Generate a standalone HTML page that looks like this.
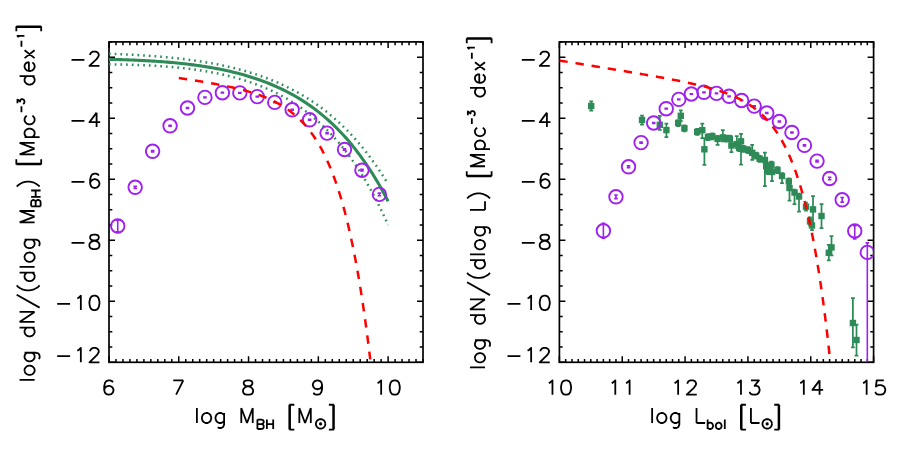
<!DOCTYPE html>
<html><head><meta charset="utf-8"><title>plot</title><style>html,body{margin:0;padding:0;background:#fff;font-family:"Liberation Sans",sans-serif}svg{display:block}</style></head><body>
<svg width="900" height="449" viewBox="0 0 900 449">
<rect width="900" height="449" fill="#fff"/>
<defs><clipPath id="c1"><rect x="109" y="41.9" width="314" height="320.4"/></clipPath><clipPath id="c2"><rect x="559.4" y="41.9" width="314.2" height="320.4"/></clipPath></defs>
<path d="M109 362.3v-6 M109 41.9v6 M115.98 362.3v-3.3 M115.98 41.9v3.3 M122.96 362.3v-3.3 M122.96 41.9v3.3 M129.93 362.3v-3.3 M129.93 41.9v3.3 M136.91 362.3v-3.3 M136.91 41.9v3.3 M143.89 362.3v-3.3 M143.89 41.9v3.3 M150.87 362.3v-3.3 M150.87 41.9v3.3 M157.84 362.3v-3.3 M157.84 41.9v3.3 M164.82 362.3v-3.3 M164.82 41.9v3.3 M171.8 362.3v-3.3 M171.8 41.9v3.3 M178.78 362.3v-6 M178.78 41.9v6 M185.76 362.3v-3.3 M185.76 41.9v3.3 M192.73 362.3v-3.3 M192.73 41.9v3.3 M199.71 362.3v-3.3 M199.71 41.9v3.3 M206.69 362.3v-3.3 M206.69 41.9v3.3 M213.67 362.3v-3.3 M213.67 41.9v3.3 M220.64 362.3v-3.3 M220.64 41.9v3.3 M227.62 362.3v-3.3 M227.62 41.9v3.3 M234.6 362.3v-3.3 M234.6 41.9v3.3 M241.58 362.3v-3.3 M241.58 41.9v3.3 M248.56 362.3v-6 M248.56 41.9v6 M255.53 362.3v-3.3 M255.53 41.9v3.3 M262.51 362.3v-3.3 M262.51 41.9v3.3 M269.49 362.3v-3.3 M269.49 41.9v3.3 M276.47 362.3v-3.3 M276.47 41.9v3.3 M283.44 362.3v-3.3 M283.44 41.9v3.3 M290.42 362.3v-3.3 M290.42 41.9v3.3 M297.4 362.3v-3.3 M297.4 41.9v3.3 M304.38 362.3v-3.3 M304.38 41.9v3.3 M311.36 362.3v-3.3 M311.36 41.9v3.3 M318.33 362.3v-6 M318.33 41.9v6 M325.31 362.3v-3.3 M325.31 41.9v3.3 M332.29 362.3v-3.3 M332.29 41.9v3.3 M339.27 362.3v-3.3 M339.27 41.9v3.3 M346.24 362.3v-3.3 M346.24 41.9v3.3 M353.22 362.3v-3.3 M353.22 41.9v3.3 M360.2 362.3v-3.3 M360.2 41.9v3.3 M367.18 362.3v-3.3 M367.18 41.9v3.3 M374.16 362.3v-3.3 M374.16 41.9v3.3 M381.13 362.3v-3.3 M381.13 41.9v3.3 M388.11 362.3v-6 M388.11 41.9v6 M395.09 362.3v-3.3 M395.09 41.9v3.3 M402.07 362.3v-3.3 M402.07 41.9v3.3 M409.04 362.3v-3.3 M409.04 41.9v3.3 M416.02 362.3v-3.3 M416.02 41.9v3.3 M423 362.3v-3.3 M423 41.9v3.3 M109 362.3h6 M423 362.3h-6 M109 347.04h3.3 M423 347.04h-3.3 M109 331.79h3.3 M423 331.79h-3.3 M109 316.53h3.3 M423 316.53h-3.3 M109 301.27h6 M423 301.27h-6 M109 286.01h3.3 M423 286.01h-3.3 M109 270.76h3.3 M423 270.76h-3.3 M109 255.5h3.3 M423 255.5h-3.3 M109 240.24h6 M423 240.24h-6 M109 224.99h3.3 M423 224.99h-3.3 M109 209.73h3.3 M423 209.73h-3.3 M109 194.47h3.3 M423 194.47h-3.3 M109 179.21h6 M423 179.21h-6 M109 163.96h3.3 M423 163.96h-3.3 M109 148.7h3.3 M423 148.7h-3.3 M109 133.44h3.3 M423 133.44h-3.3 M109 118.19h6 M423 118.19h-6 M109 102.93h3.3 M423 102.93h-3.3 M109 87.67h3.3 M423 87.67h-3.3 M109 72.41h3.3 M423 72.41h-3.3 M109 57.16h6 M423 57.16h-6 M109 41.9h3.3 M423 41.9h-3.3" stroke="#000" stroke-width="1.5" fill="none"/>
<rect x="109" y="41.9" width="314" height="320.4" fill="none" stroke="#000" stroke-width="1.7"/>
<path d="M559.4 362.3v-6 M559.4 41.9v6 M565.68 362.3v-3.3 M565.68 41.9v3.3 M571.97 362.3v-3.3 M571.97 41.9v3.3 M578.25 362.3v-3.3 M578.25 41.9v3.3 M584.54 362.3v-3.3 M584.54 41.9v3.3 M590.82 362.3v-3.3 M590.82 41.9v3.3 M597.1 362.3v-3.3 M597.1 41.9v3.3 M603.39 362.3v-3.3 M603.39 41.9v3.3 M609.67 362.3v-3.3 M609.67 41.9v3.3 M615.96 362.3v-3.3 M615.96 41.9v3.3 M622.24 362.3v-6 M622.24 41.9v6 M628.52 362.3v-3.3 M628.52 41.9v3.3 M634.81 362.3v-3.3 M634.81 41.9v3.3 M641.09 362.3v-3.3 M641.09 41.9v3.3 M647.38 362.3v-3.3 M647.38 41.9v3.3 M653.66 362.3v-3.3 M653.66 41.9v3.3 M659.94 362.3v-3.3 M659.94 41.9v3.3 M666.23 362.3v-3.3 M666.23 41.9v3.3 M672.51 362.3v-3.3 M672.51 41.9v3.3 M678.8 362.3v-3.3 M678.8 41.9v3.3 M685.08 362.3v-6 M685.08 41.9v6 M691.36 362.3v-3.3 M691.36 41.9v3.3 M697.65 362.3v-3.3 M697.65 41.9v3.3 M703.93 362.3v-3.3 M703.93 41.9v3.3 M710.22 362.3v-3.3 M710.22 41.9v3.3 M716.5 362.3v-3.3 M716.5 41.9v3.3 M722.78 362.3v-3.3 M722.78 41.9v3.3 M729.07 362.3v-3.3 M729.07 41.9v3.3 M735.35 362.3v-3.3 M735.35 41.9v3.3 M741.64 362.3v-3.3 M741.64 41.9v3.3 M747.92 362.3v-6 M747.92 41.9v6 M754.2 362.3v-3.3 M754.2 41.9v3.3 M760.49 362.3v-3.3 M760.49 41.9v3.3 M766.77 362.3v-3.3 M766.77 41.9v3.3 M773.06 362.3v-3.3 M773.06 41.9v3.3 M779.34 362.3v-3.3 M779.34 41.9v3.3 M785.62 362.3v-3.3 M785.62 41.9v3.3 M791.91 362.3v-3.3 M791.91 41.9v3.3 M798.19 362.3v-3.3 M798.19 41.9v3.3 M804.48 362.3v-3.3 M804.48 41.9v3.3 M810.76 362.3v-6 M810.76 41.9v6 M817.04 362.3v-3.3 M817.04 41.9v3.3 M823.33 362.3v-3.3 M823.33 41.9v3.3 M829.61 362.3v-3.3 M829.61 41.9v3.3 M835.9 362.3v-3.3 M835.9 41.9v3.3 M842.18 362.3v-3.3 M842.18 41.9v3.3 M848.46 362.3v-3.3 M848.46 41.9v3.3 M854.75 362.3v-3.3 M854.75 41.9v3.3 M861.03 362.3v-3.3 M861.03 41.9v3.3 M867.32 362.3v-3.3 M867.32 41.9v3.3 M873.6 362.3v-6 M873.6 41.9v6 M559.4 362.3h6 M873.6 362.3h-6 M559.4 347.04h3.3 M873.6 347.04h-3.3 M559.4 331.79h3.3 M873.6 331.79h-3.3 M559.4 316.53h3.3 M873.6 316.53h-3.3 M559.4 301.27h6 M873.6 301.27h-6 M559.4 286.01h3.3 M873.6 286.01h-3.3 M559.4 270.76h3.3 M873.6 270.76h-3.3 M559.4 255.5h3.3 M873.6 255.5h-3.3 M559.4 240.24h6 M873.6 240.24h-6 M559.4 224.99h3.3 M873.6 224.99h-3.3 M559.4 209.73h3.3 M873.6 209.73h-3.3 M559.4 194.47h3.3 M873.6 194.47h-3.3 M559.4 179.21h6 M873.6 179.21h-6 M559.4 163.96h3.3 M873.6 163.96h-3.3 M559.4 148.7h3.3 M873.6 148.7h-3.3 M559.4 133.44h3.3 M873.6 133.44h-3.3 M559.4 118.19h6 M873.6 118.19h-6 M559.4 102.93h3.3 M873.6 102.93h-3.3 M559.4 87.67h3.3 M873.6 87.67h-3.3 M559.4 72.41h3.3 M873.6 72.41h-3.3 M559.4 57.16h6 M873.6 57.16h-6 M559.4 41.9h3.3 M873.6 41.9h-3.3" stroke="#000" stroke-width="1.5" fill="none"/>
<rect x="559.4" y="41.9" width="314.2" height="320.4" fill="none" stroke="#000" stroke-width="1.7"/>
<g clip-path="url(#c1)" fill="none">
<path d="M109 59.36 L111.35 59.41 L113.69 59.46 L116.04 59.51 L118.38 59.57 L120.73 59.64 L123.07 59.71 L125.42 59.78 L127.76 59.86 L130.11 59.95 L132.45 60.04 L134.8 60.14 L137.15 60.24 L139.49 60.35 L141.84 60.46 L144.18 60.58 L146.53 60.7 L148.87 60.84 L151.22 60.98 L153.56 61.12 L155.91 61.28 L158.25 61.44 L160.6 61.6 L162.95 61.78 L165.29 61.97 L167.64 62.16 L169.98 62.36 L172.33 62.57 L174.67 62.79 L177.02 63.02 L179.36 63.25 L181.71 63.5 L184.06 63.76 L186.4 64.03 L188.75 64.31 L191.09 64.6 L193.44 64.9 L195.78 65.21 L198.13 65.54 L200.47 65.88 L202.82 66.23 L205.16 66.6 L207.51 66.97 L209.86 67.37 L212.2 67.77 L214.55 68.2 L216.89 68.63 L219.24 69.09 L221.58 69.56 L223.93 70.04 L226.27 70.55 L228.62 71.07 L230.96 71.61 L233.31 72.17 L235.66 72.75 L238 73.35 L240.35 73.97 L242.69 74.61 L245.04 75.28 L247.38 75.96 L249.73 76.67 L252.07 77.41 L254.42 78.16 L256.76 78.95 L259.11 79.76 L261.46 80.6 L263.8 81.46 L266.15 82.36 L268.49 83.28 L270.84 84.23 L273.18 85.22 L275.53 86.24 L277.87 87.29 L280.22 88.37 L282.56 89.5 L284.91 90.65 L287.26 91.85 L289.6 93.08 L291.95 94.36 L294.29 95.67 L296.64 97.03 L298.98 98.43 L301.33 99.87 L303.67 101.36 L306.02 102.9 L308.37 104.49 L310.71 106.13 L313.06 107.82 L315.4 109.56 L317.75 111.36 L320.09 113.22 L322.44 115.13 L324.78 117.1 L327.13 119.14 L329.47 121.24 L331.82 123.41 L334.17 125.64 L336.51 127.94 L338.86 130.32 L341.2 132.77 L343.55 135.29 L345.89 137.9 L348.24 140.58 L350.58 143.35 L352.93 146.21 L355.27 149.15 L357.62 152.18 L359.97 155.31 L362.31 158.54 L364.66 161.86 L367 165.29 L369.35 168.82 L371.69 172.46 L374.04 176.21 L376.38 180.08 L378.73 184.07 L381.07 188.18 L383.42 192.42 L385.77 196.78 L388.11 201.28" stroke="#2e8b57" stroke-width="3.1"/>
<path d="M109 53.81 L111.35 53.89 L113.69 53.97 L116.04 54.05 L118.38 54.14 L120.73 54.23 L123.07 54.33 L125.42 54.43 L127.76 54.54 L130.11 54.65 L132.45 54.77 L134.8 54.89 L137.15 55.02 L139.49 55.16 L141.84 55.3 L144.18 55.45 L146.53 55.6 L148.87 55.77 L151.22 55.93 L153.56 56.11 L155.91 56.29 L158.25 56.48 L160.6 56.67 L162.95 56.88 L165.29 57.09 L167.64 57.31 L169.98 57.54 L172.33 57.78 L174.67 58.02 L177.02 58.28 L179.36 58.54 L181.71 58.82 L184.06 59.1 L186.4 59.39 L188.75 59.7 L191.09 60.01 L193.44 60.34 L195.78 60.68 L198.13 61.03 L200.47 61.39 L202.82 61.76 L205.16 62.15 L207.51 62.54 L209.86 62.96 L212.2 63.38 L214.55 63.82 L216.89 64.28 L219.24 64.74 L221.58 65.23 L223.93 65.73 L226.27 66.24 L228.62 66.78 L230.96 67.33 L233.31 67.89 L235.66 68.48 L238 69.08 L240.35 69.7 L242.69 70.34 L245.04 71.01 L247.38 71.69 L249.73 72.39 L252.07 73.12 L254.42 73.86 L256.76 74.63 L259.11 75.43 L261.46 76.24 L263.8 77.09 L266.15 77.96 L268.49 78.85 L270.84 79.77 L273.18 80.72 L275.53 81.7 L277.87 82.71 L280.22 83.74 L282.56 84.81 L284.91 85.91 L287.26 87.04 L289.6 88.21 L291.95 89.41 L294.29 90.64 L296.64 91.92 L298.98 93.23 L301.33 94.57 L303.67 95.96 L306.02 97.39 L308.37 98.86 L310.71 100.37 L313.06 101.93 L315.4 103.53 L317.75 105.18 L320.09 106.88 L322.44 108.62 L324.78 110.42 L327.13 112.26 L329.47 114.17 L331.82 116.12 L334.17 118.13 L336.51 120.2 L338.86 122.33 L341.2 124.52 L343.55 126.78 L345.89 129.09 L348.24 131.48 L350.58 133.93 L352.93 136.45 L355.27 139.05 L357.62 141.71 L359.97 144.46 L362.31 147.28 L364.66 150.18 L367 153.17 L369.35 156.24 L371.69 159.39 L374.04 162.64 L376.38 165.97 L378.73 169.41 L381.07 172.93 L383.42 176.56 L385.77 180.29 L388.11 184.13" stroke="#2e8b57" stroke-width="2.5" stroke-dasharray="1.7 4"/>
<path d="M109 64.33 L111.35 64.35 L113.69 64.37 L116.04 64.4 L118.38 64.44 L120.73 64.48 L123.07 64.52 L125.42 64.57 L127.76 64.63 L130.11 64.69 L132.45 64.76 L134.8 64.84 L137.15 64.92 L139.49 65.01 L141.84 65.1 L144.18 65.2 L146.53 65.31 L148.87 65.43 L151.22 65.55 L153.56 65.68 L155.91 65.83 L158.25 65.97 L160.6 66.13 L162.95 66.3 L165.29 66.47 L167.64 66.66 L169.98 66.85 L172.33 67.06 L174.67 67.27 L177.02 67.5 L179.36 67.73 L181.71 67.98 L184.06 68.24 L186.4 68.51 L188.75 68.8 L191.09 69.09 L193.44 69.4 L195.78 69.73 L198.13 70.06 L200.47 70.42 L202.82 70.78 L205.16 71.17 L207.51 71.56 L209.86 71.98 L212.2 72.41 L214.55 72.86 L216.89 73.32 L219.24 73.81 L221.58 74.31 L223.93 74.83 L226.27 75.37 L228.62 75.94 L230.96 76.52 L233.31 77.13 L235.66 77.76 L238 78.41 L240.35 79.09 L242.69 79.79 L245.04 80.51 L247.38 81.27 L249.73 82.05 L252.07 82.85 L254.42 83.69 L256.76 84.56 L259.11 85.45 L261.46 86.38 L263.8 87.34 L266.15 88.34 L268.49 89.37 L270.84 90.43 L273.18 91.53 L275.53 92.67 L277.87 93.84 L280.22 95.06 L282.56 96.32 L284.91 97.62 L287.26 98.96 L289.6 100.35 L291.95 101.79 L294.29 103.27 L296.64 104.81 L298.98 106.39 L301.33 108.03 L303.67 109.72 L306.02 111.46 L308.37 113.26 L310.71 115.13 L313.06 117.05 L315.4 119.04 L317.75 121.09 L320.09 123.2 L322.44 125.39 L324.78 127.65 L327.13 129.98 L329.47 132.38 L331.82 134.86 L334.17 137.42 L336.51 140.07 L338.86 142.8 L341.2 145.61 L343.55 148.52 L345.89 151.52 L348.24 154.61 L350.58 157.8 L352.93 161.1 L355.27 164.49 L357.62 168 L359.97 171.62 L362.31 175.35 L364.66 179.2 L367 183.17 L369.35 187.26 L371.69 191.49 L374.04 195.84 L376.38 200.34 L378.73 204.97 L381.07 209.75 L383.42 214.68 L385.77 219.77 L388.11 225.01" stroke="#2e8b57" stroke-width="2.5" stroke-dasharray="1.7 4"/>
<g fill="none" stroke="#a020f0" stroke-width="1.9"><circle cx="117.72" cy="226" r="6.75"/><circle cx="135.17" cy="187.3" r="6.75"/><circle cx="152.61" cy="151.3" r="6.75"/><circle cx="170.06" cy="125.8" r="6.75"/><circle cx="187.5" cy="108" r="6.75"/><circle cx="204.94" cy="97.4" r="6.75"/><circle cx="222.39" cy="92.7" r="6.75"/><circle cx="239.83" cy="92.9" r="6.75"/><circle cx="257.28" cy="96.6" r="6.75"/><circle cx="274.72" cy="102.4" r="6.75"/><circle cx="292.17" cy="109.8" r="6.75"/><circle cx="309.61" cy="119.8" r="6.75"/><circle cx="327.06" cy="133.1" r="6.75"/><circle cx="344.5" cy="149.5" r="6.75"/><circle cx="361.94" cy="170.2" r="6.75"/><circle cx="379.39" cy="194.4" r="6.75"/><path d="M117.72 220.2V231.8 M115.92 220.2h3.6 M115.92 231.8h3.6 M135.17 186.2V188.4 M133.37 186.2h3.6 M133.37 188.4h3.6 M152.61 150.6V152 M150.81 150.6h3.6 M150.81 152h3.6 M170.06 125.3V126.3 M168.26 125.3h3.6 M168.26 126.3h3.6 M187.5 107.6V108.4 M185.7 107.6h3.6 M185.7 108.4h3.6 M204.94 97.1V97.7 M203.14 97.1h3.6 M203.14 97.7h3.6 M222.39 92.4V93 M220.59 92.4h3.6 M220.59 93h3.6 M239.83 92.6V93.2 M238.03 92.6h3.6 M238.03 93.2h3.6 M257.28 96.3V96.9 M255.48 96.3h3.6 M255.48 96.9h3.6 M274.72 102.1V102.7 M272.92 102.1h3.6 M272.92 102.7h3.6 M292.17 109.4V110.2 M290.37 109.4h3.6 M290.37 110.2h3.6 M309.61 119.4V120.2 M307.81 119.4h3.6 M307.81 120.2h3.6 M327.06 132.6V133.6 M325.26 132.6h3.6 M325.26 133.6h3.6 M344.5 148.9V150.1 M342.7 148.9h3.6 M342.7 150.1h3.6 M361.94 169.4V171 M360.14 169.4h3.6 M360.14 171h3.6 M379.39 193.1V195.7 M377.59 193.1h3.6 M377.59 195.7h3.6" stroke-width="1.6"/></g>
<path d="M178.78 78.08 L180.39 78.32 L182 78.56 L183.6 78.8 L185.21 79.04 L186.82 79.28 L188.43 79.52 L190.04 79.77 L191.65 80.02 L193.26 80.27 L194.87 80.52 L196.47 80.78 L198.08 81.04 L199.69 81.3 L201.3 81.56 L202.91 81.83 L204.52 82.09 L206.13 82.37 L207.74 82.64 L209.35 82.92 L210.95 83.21 L212.56 83.49 L214.17 83.78 L215.78 84.08 L217.39 84.38 L219 84.69 L220.61 85 L222.22 85.31 L223.83 85.64 L225.43 85.96 L227.04 86.3 L228.65 86.64 L230.26 86.99 L231.87 87.34 L233.48 87.71 L235.09 88.08 L236.7 88.46 L238.3 88.85 L239.91 89.25 L241.52 89.66 L243.13 90.08 L244.74 90.51 L246.35 90.96 L247.96 91.42 L249.57 91.89 L251.18 92.37 L252.78 92.87 L254.39 93.38 L256 93.92 L257.61 94.46 L259.22 95.03 L260.83 95.62 L262.44 96.22 L264.05 96.85 L265.65 97.5 L267.26 98.17 L268.87 98.87 L270.48 99.59 L272.09 100.35 L273.7 101.13 L275.31 101.94 L276.92 102.78 L278.53 103.66 L280.13 104.57 L281.74 105.53 L283.35 106.52 L284.96 107.55 L286.57 108.63 L288.18 109.75 L289.79 110.92 L291.4 112.15 L293 113.43 L294.61 114.76 L296.22 116.16 L297.83 117.62 L299.44 119.14 L301.05 120.74 L302.66 122.41 L304.27 124.16 L305.88 125.99 L307.48 127.91 L309.09 129.92 L310.7 132.03 L312.31 134.24 L313.92 136.55 L315.53 138.98 L317.14 141.53 L318.75 144.2 L320.36 147 L321.96 149.95 L323.57 153.03 L325.18 156.28 L326.79 159.68 L328.4 163.26 L330.01 167.01 L331.62 170.96 L333.23 175.1 L334.83 179.46 L336.44 184.04 L338.05 188.85 L339.66 193.91 L341.27 199.22 L342.88 204.81 L344.49 210.69 L346.1 216.87 L347.71 223.38 L349.31 230.21 L350.92 237.4 L352.53 244.97 L354.14 252.93 L355.75 261.3 L357.36 270.11 L358.97 279.38 L360.58 289.14 L362.18 299.4 L363.79 310.21 L365.4 321.58 L367.01 333.55 L368.62 346.14 L370.23 359.4" stroke="#ff0000" stroke-width="2.5" stroke-dasharray="8.4 7.95"/>
</g>
<g clip-path="url(#c2)" fill="none">
<g fill="#2e8b57" stroke="none"><rect x="588" y="102.8" width="6.4" height="6.4"/><rect x="638.8" y="116.8" width="6.4" height="6.4"/><rect x="656.6" y="121.6" width="6.4" height="6.4"/><rect x="663.2" y="126.9" width="6.4" height="6.4"/><rect x="675" y="119.8" width="6.4" height="6.4"/><rect x="677.6" y="112.6" width="6.4" height="6.4"/><rect x="681.2" y="125.1" width="6.4" height="6.4"/><rect x="694" y="128.7" width="6.4" height="6.4"/><rect x="699.1" y="127" width="6.4" height="6.4"/><rect x="701.2" y="146.1" width="6.4" height="6.4"/><rect x="704.8" y="134" width="6.4" height="6.4"/><rect x="709.2" y="133.1" width="6.4" height="6.4"/><rect x="714.4" y="135.7" width="6.4" height="6.4"/><rect x="719.6" y="134.2" width="6.4" height="6.4"/><rect x="723.1" y="135.4" width="6.4" height="6.4"/><rect x="726.6" y="135.4" width="6.4" height="6.4"/><rect x="728.2" y="142.3" width="6.4" height="6.4"/><rect x="733.6" y="140.9" width="6.4" height="6.4"/><rect x="737.8" y="138.1" width="6.4" height="6.4"/><rect x="736" y="144.8" width="6.4" height="6.4"/><rect x="740.3" y="145.6" width="6.4" height="6.4"/><rect x="745" y="146.9" width="6.4" height="6.4"/><rect x="749" y="149.6" width="6.4" height="6.4"/><rect x="753" y="152.4" width="6.4" height="6.4"/><rect x="756.5" y="155.6" width="6.4" height="6.4"/><rect x="761.7" y="156.8" width="6.4" height="6.4"/><rect x="763" y="163.1" width="6.4" height="6.4"/><rect x="765" y="167.8" width="6.4" height="6.4"/><rect x="768.2" y="161.5" width="6.4" height="6.4"/><rect x="768.8" y="168.8" width="6.4" height="6.4"/><rect x="774.3" y="166.8" width="6.4" height="6.4"/><rect x="778.8" y="172.8" width="6.4" height="6.4"/><rect x="785.6" y="178.2" width="6.4" height="6.4"/><rect x="786.3" y="184.8" width="6.4" height="6.4"/><rect x="791.3" y="189.3" width="6.4" height="6.4"/><rect x="795.8" y="193.3" width="6.4" height="6.4"/><rect x="802.8" y="203.5" width="6.4" height="6.4"/><rect x="809.8" y="206.2" width="6.4" height="6.4"/><rect x="806.8" y="218.2" width="6.4" height="6.4"/><rect x="808.8" y="222.3" width="6.4" height="6.4"/><rect x="818.3" y="212.8" width="6.4" height="6.4"/><rect x="828.3" y="244.2" width="6.4" height="6.4"/><rect x="825.6" y="249.6" width="6.4" height="6.4"/><rect x="849.7" y="319.8" width="6.4" height="6.4"/><rect x="853.3" y="336.8" width="6.4" height="6.4"/><path d="M591.2 101.4V110.6 M589.3 101.4h3.8 M589.3 110.6h3.8 M642 115.5V124.5 M640.1 115.5h3.8 M640.1 124.5h3.8 M659.8 115.8V129.8 M657.9 115.8h3.8 M657.9 129.8h3.8 M666.4 123.7V137.1 M664.5 123.7h3.8 M664.5 137.1h3.8 M678.2 120V126 M676.3 120h3.8 M676.3 126h3.8 M680.8 110.4V121.2 M678.9 110.4h3.8 M678.9 121.2h3.8 M684.4 125.3V131.3 M682.5 125.3h3.8 M682.5 131.3h3.8 M697.2 128.9V134.9 M695.3 128.9h3.8 M695.3 134.9h3.8 M702.3 123.7V138.2 M700.4 123.7h3.8 M700.4 138.2h3.8 M704.4 138V164.8 M702.5 138h3.8 M702.5 164.8h3.8 M708 134.2V140.2 M706.1 134.2h3.8 M706.1 140.2h3.8 M712.4 133.3V139.3 M710.5 133.3h3.8 M710.5 139.3h3.8 M717.6 135.9V144.9 M715.7 135.9h3.8 M715.7 144.9h3.8 M722.8 130V141.4 M720.9 130h3.8 M720.9 141.4h3.8 M726.3 135.6V141.6 M724.4 135.6h3.8 M724.4 141.6h3.8 M729.8 135.6V141.6 M727.9 135.6h3.8 M727.9 141.6h3.8 M731.4 141.5V152 M729.5 141.5h3.8 M729.5 152h3.8 M736.8 136.1V148.1 M734.9 136.1h3.8 M734.9 148.1h3.8 M741 133.8V164.7 M739.1 133.8h3.8 M739.1 164.7h3.8 M739.2 145V151 M737.3 145h3.8 M737.3 151h3.8 M743.5 145.8V151.8 M741.6 145.8h3.8 M741.6 151.8h3.8 M748.2 147.1V153.1 M746.3 147.1h3.8 M746.3 153.1h3.8 M752.2 144.8V159.8 M750.3 144.8h3.8 M750.3 159.8h3.8 M756.2 152.6V158.6 M754.3 152.6h3.8 M754.3 158.6h3.8 M759.7 155.8V161.8 M757.8 155.8h3.8 M757.8 161.8h3.8 M764.9 152.7V186 M763 152.7h3.8 M763 186h3.8 M766.2 163.3V169.3 M764.3 163.3h3.8 M764.3 169.3h3.8 M768.2 168V174 M766.3 168h3.8 M766.3 174h3.8 M771.4 161.7V167.7 M769.5 161.7h3.8 M769.5 167.7h3.8 M772 169V181 M770.1 169h3.8 M770.1 181h3.8 M777.5 167V173 M775.6 167h3.8 M775.6 173h3.8 M782 173V183 M780.1 173h3.8 M780.1 183h3.8 M788.8 178.4V184.4 M786.9 178.4h3.8 M786.9 184.4h3.8 M789.5 185V200.7 M787.6 185h3.8 M787.6 200.7h3.8 M794.5 189.5V204 M792.6 189.5h3.8 M792.6 204h3.8 M799 193.5V211.5 M797.1 193.5h3.8 M797.1 211.5h3.8 M806 202.7V210.7 M804.1 202.7h3.8 M804.1 210.7h3.8 M813 196V224.4 M811.1 196h3.8 M811.1 224.4h3.8 M810 217.4V225.4 M808.1 217.4h3.8 M808.1 225.4h3.8 M812 221.5V230 M810.1 221.5h3.8 M810.1 230h3.8 M821.5 204V228 M819.6 204h3.8 M819.6 228h3.8 M831.5 236V255.4 M829.6 236h3.8 M829.6 255.4h3.8 M828.8 244.8V260.3 M826.9 244.8h3.8 M826.9 260.3h3.8 M852.9 298V347.4 M851 298h3.8 M851 347.4h3.8 M856.5 324.7V355.5 M854.6 324.7h3.8 M854.6 355.5h3.8" fill="none" stroke="#2e8b57" stroke-width="1.75"/></g>
<g fill="none" stroke="#a020f0" stroke-width="1.9"><circle cx="603.39" cy="230.8" r="6.75"/><circle cx="615.96" cy="196.8" r="6.75"/><circle cx="628.52" cy="166.8" r="6.75"/><circle cx="641.09" cy="142.6" r="6.75"/><circle cx="653.66" cy="123" r="6.75"/><circle cx="666.23" cy="108.7" r="6.75"/><circle cx="678.8" cy="99.4" r="6.75"/><circle cx="691.36" cy="94" r="6.75"/><circle cx="703.93" cy="92.3" r="6.75"/><circle cx="716.5" cy="93.4" r="6.75"/><circle cx="729.07" cy="96.3" r="6.75"/><circle cx="741.64" cy="100.5" r="6.75"/><circle cx="754.2" cy="106.1" r="6.75"/><circle cx="766.77" cy="113" r="6.75"/><circle cx="779.34" cy="121.5" r="6.75"/><circle cx="791.91" cy="132.5" r="6.75"/><circle cx="804.48" cy="145.4" r="6.75"/><circle cx="817.04" cy="161.1" r="6.75"/><circle cx="829.61" cy="178.5" r="6.75"/><circle cx="842.18" cy="199.8" r="6.75"/><circle cx="854.75" cy="231" r="6.75"/><circle cx="867.32" cy="252.4" r="6.75"/><path d="M603.39 223.3V238.3 M601.59 223.3h3.6 M601.59 238.3h3.6 M615.96 195V198.6 M614.16 195h3.6 M614.16 198.6h3.6 M628.52 165.9V167.7 M626.72 165.9h3.6 M626.72 167.7h3.6 M641.09 142.1V143.1 M639.29 142.1h3.6 M639.29 143.1h3.6 M653.66 122.6V123.4 M651.86 122.6h3.6 M651.86 123.4h3.6 M666.23 108.4V109 M664.43 108.4h3.6 M664.43 109h3.6 M678.8 99.1V99.7 M677 99.1h3.6 M677 99.7h3.6 M691.36 93.7V94.3 M689.56 93.7h3.6 M689.56 94.3h3.6 M703.93 92V92.6 M702.13 92h3.6 M702.13 92.6h3.6 M716.5 93.1V93.7 M714.7 93.1h3.6 M714.7 93.7h3.6 M729.07 96V96.6 M727.27 96h3.6 M727.27 96.6h3.6 M741.64 100.2V100.8 M739.84 100.2h3.6 M739.84 100.8h3.6 M754.2 105.8V106.4 M752.4 105.8h3.6 M752.4 106.4h3.6 M766.77 112.6V113.4 M764.97 112.6h3.6 M764.97 113.4h3.6 M779.34 121.1V121.9 M777.54 121.1h3.6 M777.54 121.9h3.6 M791.91 132V133 M790.11 132h3.6 M790.11 133h3.6 M804.48 144.8V146 M802.68 144.8h3.6 M802.68 146h3.6 M817.04 160.3V161.9 M815.24 160.3h3.6 M815.24 161.9h3.6 M829.61 177.3V179.7 M827.81 177.3h3.6 M827.81 179.7h3.6 M842.18 197.5V202.1 M840.38 197.5h3.6 M840.38 202.1h3.6 M854.75 225.7V239 M852.95 225.7h3.6 M852.95 239h3.6 M867.32 242.9V362.3 M865.52 242.9h3.6" stroke-width="1.6"/></g>
<path d="M559.4 60.53 L561.67 60.9 L563.94 61.27 L566.22 61.63 L568.49 62 L570.76 62.37 L573.03 62.74 L575.3 63.11 L577.57 63.48 L579.85 63.85 L582.12 64.22 L584.39 64.59 L586.66 64.95 L588.93 65.32 L591.21 65.69 L593.48 66.07 L595.75 66.44 L598.02 66.81 L600.29 67.18 L602.56 67.55 L604.84 67.92 L607.11 68.3 L609.38 68.67 L611.65 69.04 L613.92 69.42 L616.19 69.79 L618.47 70.17 L620.74 70.55 L623.01 70.92 L625.28 71.3 L627.55 71.68 L629.83 72.06 L632.1 72.44 L634.37 72.83 L636.64 73.21 L638.91 73.6 L641.18 73.98 L643.46 74.37 L645.73 74.77 L648 75.16 L650.27 75.56 L652.54 75.95 L654.82 76.35 L657.09 76.76 L659.36 77.17 L661.63 77.58 L663.9 77.99 L666.17 78.41 L668.45 78.83 L670.72 79.26 L672.99 79.69 L675.26 80.13 L677.53 80.58 L679.81 81.03 L682.08 81.49 L684.35 81.96 L686.62 82.43 L688.89 82.92 L691.16 83.42 L693.44 83.92 L695.71 84.44 L697.98 84.97 L700.25 85.52 L702.52 86.08 L704.79 86.66 L707.07 87.26 L709.34 87.87 L711.61 88.51 L713.88 89.17 L716.15 89.86 L718.43 90.58 L720.7 91.32 L722.97 92.1 L725.24 92.91 L727.51 93.76 L729.78 94.65 L732.06 95.59 L734.33 96.58 L736.6 97.62 L738.87 98.72 L741.14 99.88 L743.42 101.12 L745.69 102.42 L747.96 103.81 L750.23 105.28 L752.5 106.85 L754.77 108.53 L757.05 110.31 L759.32 112.22 L761.59 114.27 L763.86 116.45 L766.13 118.8 L768.41 121.31 L770.68 124.01 L772.95 126.91 L775.22 130.03 L777.49 133.39 L779.76 137 L782.04 140.9 L784.31 145.1 L786.58 149.62 L788.85 154.51 L791.12 159.79 L793.4 165.49 L795.67 171.65 L797.94 178.32 L800.21 185.52 L802.48 193.31 L804.75 201.75 L807.03 210.88 L809.3 220.76 L811.57 231.47 L813.84 243.07 L816.11 255.64 L818.38 269.26 L820.66 284.02 L822.93 300.02 L825.2 317.37 L827.47 336.19 L829.74 356.6" stroke="#ff0000" stroke-width="2.5" stroke-dasharray="8.4 7.9"/>
</g>
<g fill="none" stroke="#000" stroke-width="1.8" stroke-linecap="butt" stroke-linejoin="round">
<path transform="translate(101.6 65.96)" d="M-30.07 -6.15L-17.18 -6.15 M-11.46 -10.94L-11.46 -11.62L-10.74 -12.99L-10.02 -13.68L-8.59 -14.36L-5.73 -14.36L-4.3 -13.68L-3.58 -12.99L-2.86 -11.62L-2.86 -10.26L-3.58 -8.89L-5.01 -6.84L-12.17 -0L-2.15 -0"/>
<path transform="translate(551.9 65.96)" d="M-30.07 -6.15L-17.18 -6.15 M-11.46 -10.94L-11.46 -11.62L-10.74 -12.99L-10.02 -13.68L-8.59 -14.36L-5.73 -14.36L-4.3 -13.68L-3.58 -12.99L-2.86 -11.62L-2.86 -10.26L-3.58 -8.89L-5.01 -6.84L-12.17 -0L-2.15 -0"/>
<path transform="translate(101.6 126.99)" d="M-30.07 -6.15L-17.18 -6.15 M-5.01 -14.36L-12.17 -4.79L-1.43 -4.79 M-5.01 -14.36L-5.01 -0"/>
<path transform="translate(551.9 126.99)" d="M-30.07 -6.15L-17.18 -6.15 M-5.01 -14.36L-12.17 -4.79L-1.43 -4.79 M-5.01 -14.36L-5.01 -0"/>
<path transform="translate(101.6 188.01)" d="M-30.07 -6.15L-17.18 -6.15 M-2.86 -12.31L-3.58 -13.68L-5.73 -14.36L-7.16 -14.36L-9.31 -13.68L-10.74 -11.62L-11.46 -8.21L-11.46 -4.79L-10.74 -2.05L-9.31 -0.68L-7.16 -0L-6.44 -0L-4.3 -0.68L-2.86 -2.05L-2.15 -4.1L-2.15 -4.79L-2.86 -6.84L-4.3 -8.21L-6.44 -8.89L-7.16 -8.89L-9.31 -8.21L-10.74 -6.84L-11.46 -4.79"/>
<path transform="translate(551.9 188.01)" d="M-30.07 -6.15L-17.18 -6.15 M-2.86 -12.31L-3.58 -13.68L-5.73 -14.36L-7.16 -14.36L-9.31 -13.68L-10.74 -11.62L-11.46 -8.21L-11.46 -4.79L-10.74 -2.05L-9.31 -0.68L-7.16 -0L-6.44 -0L-4.3 -0.68L-2.86 -2.05L-2.15 -4.1L-2.15 -4.79L-2.86 -6.84L-4.3 -8.21L-6.44 -8.89L-7.16 -8.89L-9.31 -8.21L-10.74 -6.84L-11.46 -4.79"/>
<path transform="translate(101.6 249.04)" d="M-30.07 -6.15L-17.18 -6.15 M-8.59 -14.36L-10.74 -13.68L-11.46 -12.31L-11.46 -10.94L-10.74 -9.57L-9.31 -8.89L-6.44 -8.21L-4.3 -7.52L-2.86 -6.15L-2.15 -4.79L-2.15 -2.74L-2.86 -1.37L-3.58 -0.68L-5.73 -0L-8.59 -0L-10.74 -0.68L-11.46 -1.37L-12.17 -2.74L-12.17 -4.79L-11.46 -6.15L-10.02 -7.52L-7.88 -8.21L-5.01 -8.89L-3.58 -9.57L-2.86 -10.94L-2.86 -12.31L-3.58 -13.68L-5.73 -14.36L-8.59 -14.36"/>
<path transform="translate(551.9 249.04)" d="M-30.07 -6.15L-17.18 -6.15 M-8.59 -14.36L-10.74 -13.68L-11.46 -12.31L-11.46 -10.94L-10.74 -9.57L-9.31 -8.89L-6.44 -8.21L-4.3 -7.52L-2.86 -6.15L-2.15 -4.79L-2.15 -2.74L-2.86 -1.37L-3.58 -0.68L-5.73 -0L-8.59 -0L-10.74 -0.68L-11.46 -1.37L-12.17 -2.74L-12.17 -4.79L-11.46 -6.15L-10.02 -7.52L-7.88 -8.21L-5.01 -8.89L-3.58 -9.57L-2.86 -10.94L-2.86 -12.31L-3.58 -13.68L-5.73 -14.36L-8.59 -14.36"/>
<path transform="translate(101.6 310.07)" d="M-44.39 -6.15L-31.5 -6.15 M-24.34 -11.62L-22.91 -12.31L-20.76 -14.36L-20.76 -0 M-7.88 -14.36L-10.02 -13.68L-11.46 -11.62L-12.17 -8.21L-12.17 -6.15L-11.46 -2.74L-10.02 -0.68L-7.88 -0L-6.44 -0L-4.3 -0.68L-2.86 -2.74L-2.15 -6.15L-2.15 -8.21L-2.86 -11.62L-4.3 -13.68L-6.44 -14.36L-7.88 -14.36"/>
<path transform="translate(551.9 310.07)" d="M-44.39 -6.15L-31.5 -6.15 M-24.34 -11.62L-22.91 -12.31L-20.76 -14.36L-20.76 -0 M-7.88 -14.36L-10.02 -13.68L-11.46 -11.62L-12.17 -8.21L-12.17 -6.15L-11.46 -2.74L-10.02 -0.68L-7.88 -0L-6.44 -0L-4.3 -0.68L-2.86 -2.74L-2.15 -6.15L-2.15 -8.21L-2.86 -11.62L-4.3 -13.68L-6.44 -14.36L-7.88 -14.36"/>
<path transform="translate(101.6 362.3)" d="M-44.39 -6.15L-31.5 -6.15 M-24.34 -11.62L-22.91 -12.31L-20.76 -14.36L-20.76 -0 M-11.46 -10.94L-11.46 -11.62L-10.74 -12.99L-10.02 -13.68L-8.59 -14.36L-5.73 -14.36L-4.3 -13.68L-3.58 -12.99L-2.86 -11.62L-2.86 -10.26L-3.58 -8.89L-5.01 -6.84L-12.17 -0L-2.15 -0"/>
<path transform="translate(551.9 362.3)" d="M-44.39 -6.15L-31.5 -6.15 M-24.34 -11.62L-22.91 -12.31L-20.76 -14.36L-20.76 -0 M-11.46 -10.94L-11.46 -11.62L-10.74 -12.99L-10.02 -13.68L-8.59 -14.36L-5.73 -14.36L-4.3 -13.68L-3.58 -12.99L-2.86 -11.62L-2.86 -10.26L-3.58 -8.89L-5.01 -6.84L-12.17 -0L-2.15 -0"/>
<path transform="translate(108.5 394.7)" d="M4.3 -12.31L3.58 -13.68L1.43 -14.36L0 -14.36L-2.15 -13.68L-3.58 -11.62L-4.3 -8.21L-4.3 -4.79L-3.58 -2.05L-2.15 -0.68L0 -0L0.72 -0L2.86 -0.68L4.3 -2.05L5.01 -4.1L5.01 -4.79L4.3 -6.84L2.86 -8.21L0.72 -8.89L0 -8.89L-2.15 -8.21L-3.58 -6.84L-4.3 -4.79"/>
<path transform="translate(178.28 394.7)" d="M5.01 -14.36L-2.15 -0 M-5.01 -14.36L5.01 -14.36"/>
<path transform="translate(248.06 394.7)" d="M-1.43 -14.36L-3.58 -13.68L-4.3 -12.31L-4.3 -10.94L-3.58 -9.57L-2.15 -8.89L0.72 -8.21L2.86 -7.52L4.3 -6.15L5.01 -4.79L5.01 -2.74L4.3 -1.37L3.58 -0.68L1.43 -0L-1.43 -0L-3.58 -0.68L-4.3 -1.37L-5.01 -2.74L-5.01 -4.79L-4.3 -6.15L-2.86 -7.52L-0.72 -8.21L2.15 -8.89L3.58 -9.57L4.3 -10.94L4.3 -12.31L3.58 -13.68L1.43 -14.36L-1.43 -14.36"/>
<path transform="translate(317.83 394.7)" d="M4.3 -9.57L3.58 -7.52L2.15 -6.15L0 -5.47L-0.72 -5.47L-2.86 -6.15L-4.3 -7.52L-5.01 -9.57L-5.01 -10.26L-4.3 -12.31L-2.86 -13.68L-0.72 -14.36L0 -14.36L2.15 -13.68L3.58 -12.31L4.3 -9.57L4.3 -6.15L3.58 -2.74L2.15 -0.68L0 -0L-1.43 -0L-3.58 -0.68L-4.3 -2.05"/>
<path transform="translate(387.61 394.7)" d="M-10.02 -11.62L-8.59 -12.31L-6.44 -14.36L-6.44 -0 M6.44 -14.36L4.3 -13.68L2.86 -11.62L2.15 -8.21L2.15 -6.15L2.86 -2.74L4.3 -0.68L6.44 -0L7.88 -0L10.02 -0.68L11.46 -2.74L12.17 -6.15L12.17 -8.21L11.46 -11.62L10.02 -13.68L7.88 -14.36L6.44 -14.36"/>
<path transform="translate(558.9 394.7)" d="M-10.02 -11.62L-8.59 -12.31L-6.44 -14.36L-6.44 -0 M6.44 -14.36L4.3 -13.68L2.86 -11.62L2.15 -8.21L2.15 -6.15L2.86 -2.74L4.3 -0.68L6.44 -0L7.88 -0L10.02 -0.68L11.46 -2.74L12.17 -6.15L12.17 -8.21L11.46 -11.62L10.02 -13.68L7.88 -14.36L6.44 -14.36"/>
<path transform="translate(621.74 394.7)" d="M-10.02 -11.62L-8.59 -12.31L-6.44 -14.36L-6.44 -0 M4.3 -11.62L5.73 -12.31L7.88 -14.36L7.88 -0"/>
<path transform="translate(684.58 394.7)" d="M-10.02 -11.62L-8.59 -12.31L-6.44 -14.36L-6.44 -0 M2.86 -10.94L2.86 -11.62L3.58 -12.99L4.3 -13.68L5.73 -14.36L8.59 -14.36L10.02 -13.68L10.74 -12.99L11.46 -11.62L11.46 -10.26L10.74 -8.89L9.31 -6.84L2.15 -0L12.17 -0"/>
<path transform="translate(747.42 394.7)" d="M-10.02 -11.62L-8.59 -12.31L-6.44 -14.36L-6.44 -0 M3.58 -14.36L11.46 -14.36L7.16 -8.89L9.31 -8.89L10.74 -8.21L11.46 -7.52L12.17 -5.47L12.17 -4.1L11.46 -2.05L10.02 -0.68L7.88 -0L5.73 -0L3.58 -0.68L2.86 -1.37L2.15 -2.74"/>
<path transform="translate(810.26 394.7)" d="M-10.02 -11.62L-8.59 -12.31L-6.44 -14.36L-6.44 -0 M9.31 -14.36L2.15 -4.79L12.89 -4.79 M9.31 -14.36L9.31 -0"/>
<path transform="translate(873.1 394.7)" d="M-10.02 -11.62L-8.59 -12.31L-6.44 -14.36L-6.44 -0 M10.74 -14.36L3.58 -14.36L2.86 -8.21L3.58 -8.89L5.73 -9.57L7.88 -9.57L10.02 -8.89L11.46 -7.52L12.17 -5.47L12.17 -4.1L11.46 -2.05L10.02 -0.68L7.88 -0L5.73 -0L3.58 -0.68L2.86 -1.37L2.15 -2.74"/>
<path transform="translate(265.4 423)" d="M-68.51 -15.04L-68.51 -0 M-59.91 -10.02L-61.35 -9.31L-62.78 -7.88L-63.49 -5.73L-63.49 -4.3L-62.78 -2.15L-61.35 -0.72L-59.91 -0L-57.77 -0L-56.33 -0.72L-54.9 -2.15L-54.19 -4.3L-54.19 -5.73L-54.9 -7.88L-56.33 -9.31L-57.77 -10.02L-59.91 -10.02 M-41.3 -10.02L-41.3 1.43L-42.01 3.58L-42.73 4.3L-44.16 5.01L-46.31 5.01L-47.74 4.3 M-41.3 -7.88L-42.73 -9.31L-44.16 -10.02L-46.31 -10.02L-47.74 -9.31L-49.17 -7.88L-49.89 -5.73L-49.89 -4.3L-49.17 -2.15L-47.74 -0.72L-46.31 -0L-44.16 -0L-42.73 -0.72L-41.3 -2.15 M-24.11 -15.04L-24.11 -0 M-24.11 -15.04L-18.39 -0 M-12.66 -15.04L-18.39 -0 M-12.66 -15.04L-12.66 -0 M-7.99 -3.46L-7.99 6.01 M-7.99 -3.46L-3.93 -3.46L-2.58 -3.01L-2.13 -2.56L-1.68 -1.65L-1.68 -0.75L-2.13 0.15L-2.58 0.6L-3.93 1.05 M-7.99 1.05L-3.93 1.05L-2.58 1.5L-2.13 1.95L-1.68 2.86L-1.68 4.21L-2.13 5.11L-2.58 5.56L-3.93 6.01L-7.99 6.01 M1.48 -3.46L1.48 6.01 M7.8 -3.46L7.8 6.01 M1.48 1.05L7.8 1.05 M23.92 -18.26L23.92 6.59 M24.64 -18.26L24.64 6.59 M23.92 -18.26L28.93 -18.26 M23.92 6.59L28.93 6.59 M33.95 -15.04L33.95 -0 M33.95 -15.04L39.67 -0 M45.4 -15.04L39.67 -0 M45.4 -15.04L45.4 -0 M59.95 0.87L59.86 -0.05L59.59 -0.94L59.15 -1.76L58.56 -2.48L57.84 -3.07L57.02 -3.5L56.14 -3.77L55.21 -3.86L54.29 -3.77L53.4 -3.5L52.58 -3.07L51.86 -2.48L51.27 -1.76L50.84 -0.94L50.57 -0.05L50.48 0.87L50.57 1.8L50.84 2.68L51.27 3.5L51.86 4.22L52.58 4.81L53.4 5.25L54.29 5.52L55.21 5.61L56.14 5.52L57.02 5.25L57.84 4.81L58.56 4.22L59.15 3.5L59.59 2.68L59.86 1.8L59.95 0.87 M55.93 0.87L55.92 0.73L55.88 0.6L55.81 0.47L55.72 0.36L55.61 0.27L55.49 0.21L55.35 0.16L55.21 0.15L55.07 0.16L54.94 0.21L54.81 0.27L54.7 0.36L54.61 0.47L54.55 0.6L54.5 0.73L54.49 0.87L54.5 1.01L54.55 1.15L54.61 1.27L54.7 1.38L54.81 1.47L54.94 1.54L55.07 1.58L55.21 1.59L55.35 1.58L55.49 1.54L55.61 1.47L55.72 1.38L55.81 1.27L55.88 1.15L55.92 1.01L55.93 0.87 M55.44 0.87L55.43 0.83L55.42 0.79L55.4 0.75L55.37 0.71L55.34 0.68L55.3 0.66L55.26 0.65L55.21 0.65L55.17 0.65L55.13 0.66L55.09 0.68L55.05 0.71L55.02 0.75L55 0.79L54.99 0.83L54.99 0.87L54.99 0.92L55 0.96L55.02 1L55.05 1.03L55.09 1.06L55.13 1.08L55.17 1.09L55.21 1.1L55.26 1.09L55.3 1.08L55.34 1.06L55.37 1.03L55.4 1L55.42 0.96L55.43 0.92L55.44 0.87 M67.79 -18.26L67.79 6.59 M68.51 -18.26L68.51 6.59 M63.49 -18.26L68.51 -18.26 M63.49 6.59L68.51 6.59"/>
<path transform="translate(715.7 423)" d="M-63.56 -15.04L-63.56 -0 M-54.97 -10.02L-56.4 -9.31L-57.83 -7.88L-58.55 -5.73L-58.55 -4.3L-57.83 -2.15L-56.4 -0.72L-54.97 -0L-52.82 -0L-51.39 -0.72L-49.96 -2.15L-49.24 -4.3L-49.24 -5.73L-49.96 -7.88L-51.39 -9.31L-52.82 -10.02L-54.97 -10.02 M-36.35 -10.02L-36.35 1.43L-37.07 3.58L-37.79 4.3L-39.22 5.01L-41.37 5.01L-42.8 4.3 M-36.35 -7.88L-37.79 -9.31L-39.22 -10.02L-41.37 -10.02L-42.8 -9.31L-44.23 -7.88L-44.95 -5.73L-44.95 -4.3L-44.23 -2.15L-42.8 -0.72L-41.37 -0L-39.22 -0L-37.79 -0.72L-36.35 -2.15 M-19.17 -15.04L-19.17 -0 M-19.17 -0L-10.58 -0 M-8.06 -3.46L-8.06 6.01 M-8.06 1.05L-7.16 0.15L-6.25 -0.3L-4.9 -0.3L-4 0.15L-3.1 1.05L-2.65 2.41L-2.65 3.31L-3.1 4.66L-4 5.56L-4.9 6.01L-6.25 6.01L-7.16 5.56L-8.06 4.66 M2.32 -0.3L1.41 0.15L0.51 1.05L0.06 2.41L0.06 3.31L0.51 4.66L1.41 5.56L2.32 6.01L3.67 6.01L4.57 5.56L5.47 4.66L5.92 3.31L5.92 2.41L5.47 1.05L4.57 0.15L3.67 -0.3L2.32 -0.3 M9.08 -3.46L9.08 6.01 M25.21 -18.26L25.21 6.59 M25.92 -18.26L25.92 6.59 M25.21 -18.26L30.22 -18.26 M25.21 6.59L30.22 6.59 M35.23 -15.04L35.23 -0 M35.23 -0L43.82 -0 M56.22 0.87L56.13 -0.05L55.86 -0.94L55.42 -1.76L54.83 -2.48L54.12 -3.07L53.3 -3.5L52.41 -3.77L51.49 -3.86L50.56 -3.77L49.67 -3.5L48.85 -3.07L48.14 -2.48L47.55 -1.76L47.11 -0.94L46.84 -0.05L46.75 0.87L46.84 1.8L47.11 2.68L47.55 3.5L48.14 4.22L48.85 4.81L49.67 5.25L50.56 5.52L51.49 5.61L52.41 5.52L53.3 5.25L54.12 4.81L54.83 4.22L55.42 3.5L55.86 2.68L56.13 1.8L56.22 0.87 M52.21 0.87L52.19 0.73L52.15 0.6L52.09 0.47L52 0.36L51.89 0.27L51.76 0.21L51.63 0.16L51.49 0.15L51.34 0.16L51.21 0.21L51.08 0.27L50.98 0.36L50.89 0.47L50.82 0.6L50.78 0.73L50.76 0.87L50.78 1.01L50.82 1.15L50.89 1.27L50.98 1.38L51.08 1.47L51.21 1.54L51.34 1.58L51.49 1.59L51.63 1.58L51.76 1.54L51.89 1.47L52 1.38L52.09 1.27L52.15 1.15L52.19 1.01L52.21 0.87 M51.71 0.87L51.71 0.83L51.69 0.79L51.67 0.75L51.64 0.71L51.61 0.68L51.57 0.66L51.53 0.65L51.49 0.65L51.44 0.65L51.4 0.66L51.36 0.68L51.33 0.71L51.3 0.75L51.28 0.79L51.26 0.83L51.26 0.87L51.26 0.92L51.28 0.96L51.3 1L51.33 1.03L51.36 1.06L51.4 1.08L51.44 1.09L51.49 1.1L51.53 1.09L51.57 1.08L51.61 1.06L51.64 1.03L51.67 1L51.69 0.96L51.71 0.92L51.71 0.87 M62.85 -18.26L62.85 6.59 M63.56 -18.26L63.56 6.59 M58.55 -18.26L63.56 -18.26 M58.55 6.59L63.56 6.59"/>
<path transform="translate(34.6 203.15) rotate(-90)" d="M-176.81 -15.04L-176.81 -0 M-168.21 -10.02L-169.65 -9.31L-171.08 -7.88L-171.79 -5.73L-171.79 -4.3L-171.08 -2.15L-169.65 -0.72L-168.21 -0L-166.07 -0L-164.63 -0.72L-163.2 -2.15L-162.49 -4.3L-162.49 -5.73L-163.2 -7.88L-164.63 -9.31L-166.07 -10.02L-168.21 -10.02 M-149.6 -10.02L-149.6 1.43L-150.31 3.58L-151.03 4.3L-152.46 5.01L-154.61 5.01L-156.04 4.3 M-149.6 -7.88L-151.03 -9.31L-152.46 -10.02L-154.61 -10.02L-156.04 -9.31L-157.47 -7.88L-158.19 -5.73L-158.19 -4.3L-157.47 -2.15L-156.04 -0.72L-154.61 -0L-152.46 -0L-151.03 -0.72L-149.6 -2.15 M-124.54 -15.04L-124.54 -0 M-124.54 -7.88L-125.97 -9.31L-127.4 -10.02L-129.55 -10.02L-130.98 -9.31L-132.41 -7.88L-133.13 -5.73L-133.13 -4.3L-132.41 -2.15L-130.98 -0.72L-129.55 -0L-127.4 -0L-125.97 -0.72L-124.54 -2.15 M-118.81 -15.04L-118.81 -0 M-118.81 -15.04L-108.79 -0 M-108.79 -15.04L-108.79 -0 M-91.6 -17.9L-104.49 5.01 M-82.29 -17.9L-83.73 -16.47L-85.16 -14.32L-86.59 -11.46L-87.31 -7.88L-87.31 -5.01L-86.59 -1.43L-85.16 1.43L-83.73 3.58L-82.29 5.01 M-69.41 -15.04L-69.41 -0 M-69.41 -7.88L-70.84 -9.31L-72.27 -10.02L-74.42 -10.02L-75.85 -9.31L-77.28 -7.88L-78 -5.73L-78 -4.3L-77.28 -2.15L-75.85 -0.72L-74.42 -0L-72.27 -0L-70.84 -0.72L-69.41 -2.15 M-63.68 -15.04L-63.68 -0 M-55.09 -10.02L-56.52 -9.31L-57.95 -7.88L-58.67 -5.73L-58.67 -4.3L-57.95 -2.15L-56.52 -0.72L-55.09 -0L-52.94 -0L-51.51 -0.72L-50.07 -2.15L-49.36 -4.3L-49.36 -5.73L-50.07 -7.88L-51.51 -9.31L-52.94 -10.02L-55.09 -10.02 M-36.47 -10.02L-36.47 1.43L-37.19 3.58L-37.9 4.3L-39.33 5.01L-41.48 5.01L-42.91 4.3 M-36.47 -7.88L-37.9 -9.31L-39.33 -10.02L-41.48 -10.02L-42.91 -9.31L-44.35 -7.88L-45.06 -5.73L-45.06 -4.3L-44.35 -2.15L-42.91 -0.72L-41.48 -0L-39.33 -0L-37.9 -0.72L-36.47 -2.15 M-19.29 -15.04L-19.29 -0 M-19.29 -15.04L-13.56 -0 M-7.83 -15.04L-13.56 -0 M-7.83 -15.04L-7.83 -0 M-3.16 -3.46L-3.16 6.01 M-3.16 -3.46L0.9 -3.46L2.25 -3.01L2.7 -2.56L3.15 -1.65L3.15 -0.75L2.7 0.15L2.25 0.6L0.9 1.05 M-3.16 1.05L0.9 1.05L2.25 1.5L2.7 1.95L3.15 2.86L3.15 4.21L2.7 5.11L2.25 5.56L0.9 6.01L-3.16 6.01 M6.31 -3.46L6.31 6.01 M12.63 -3.46L12.63 6.01 M6.31 1.05L12.63 1.05 M16.58 -17.9L18.01 -16.47L19.44 -14.32L20.87 -11.46L21.59 -7.88L21.59 -5.01L20.87 -1.43L19.44 1.43L18.01 3.58L16.58 5.01 M38.77 -18.26L38.77 6.59 M39.49 -18.26L39.49 6.59 M38.77 -18.26L43.79 -18.26 M38.77 6.59L43.79 6.59 M48.8 -15.04L48.8 -0 M48.8 -15.04L54.53 -0 M60.25 -15.04L54.53 -0 M60.25 -15.04L60.25 -0 M65.98 -10.02L65.98 5.01 M65.98 -7.88L67.41 -9.31L68.85 -10.02L70.99 -10.02L72.43 -9.31L73.86 -7.88L74.57 -5.73L74.57 -4.3L73.86 -2.15L72.43 -0.72L70.99 -0L68.85 -0L67.41 -0.72L65.98 -2.15 M87.46 -7.88L86.03 -9.31L84.6 -10.02L82.45 -10.02L81.02 -9.31L79.59 -7.88L78.87 -5.73L78.87 -4.3L79.59 -2.15L81.02 -0.72L82.45 -0L84.6 -0L86.03 -0.72L87.46 -2.15 M90.94 -13.16L96.94 -13.16 M99.93 -17.16L103.59 -17.16L101.6 -14.5L102.6 -14.5L103.26 -14.16L103.59 -13.83L103.93 -12.83L103.93 -12.16L103.59 -11.17L102.93 -10.5L101.93 -10.17L100.93 -10.17L99.93 -10.5L99.6 -10.83L99.27 -11.5 M127.12 -15.04L127.12 -0 M127.12 -7.88L125.69 -9.31L124.26 -10.02L122.11 -10.02L120.68 -9.31L119.25 -7.88L118.53 -5.73L118.53 -4.3L119.25 -2.15L120.68 -0.72L122.11 -0L124.26 -0L125.69 -0.72L127.12 -2.15 M132.13 -5.73L140.73 -5.73L140.73 -7.16L140.01 -8.59L139.29 -9.31L137.86 -10.02L135.71 -10.02L134.28 -9.31L132.85 -7.88L132.13 -5.73L132.13 -4.3L132.85 -2.15L134.28 -0.72L135.71 -0L137.86 -0L139.29 -0.72L140.73 -2.15 M145.02 -10.02L152.9 -0 M152.9 -10.02L145.02 -0 M156.38 -13.16L162.37 -13.16 M165.7 -15.83L166.37 -16.16L167.37 -17.16L167.37 -10.17 M176.09 -18.26L176.09 6.59 M176.81 -18.26L176.81 6.59 M171.79 -18.26L176.81 -18.26 M171.79 6.59L176.81 6.59"/>
<path transform="translate(485 202.86) rotate(-90)" d="M-164.6 -15.04L-164.6 -0 M-156.01 -10.02L-157.44 -9.31L-158.87 -7.88L-159.59 -5.73L-159.59 -4.3L-158.87 -2.15L-157.44 -0.72L-156.01 -0L-153.86 -0L-152.43 -0.72L-151 -2.15L-150.28 -4.3L-150.28 -5.73L-151 -7.88L-152.43 -9.31L-153.86 -10.02L-156.01 -10.02 M-137.39 -10.02L-137.39 1.43L-138.11 3.58L-138.83 4.3L-140.26 5.01L-142.41 5.01L-143.84 4.3 M-137.39 -7.88L-138.83 -9.31L-140.26 -10.02L-142.41 -10.02L-143.84 -9.31L-145.27 -7.88L-145.99 -5.73L-145.99 -4.3L-145.27 -2.15L-143.84 -0.72L-142.41 -0L-140.26 -0L-138.83 -0.72L-137.39 -2.15 M-112.33 -15.04L-112.33 -0 M-112.33 -7.88L-113.77 -9.31L-115.2 -10.02L-117.35 -10.02L-118.78 -9.31L-120.21 -7.88L-120.93 -5.73L-120.93 -4.3L-120.21 -2.15L-118.78 -0.72L-117.35 -0L-115.2 -0L-113.77 -0.72L-112.33 -2.15 M-106.61 -15.04L-106.61 -0 M-106.61 -15.04L-96.58 -0 M-96.58 -15.04L-96.58 -0 M-79.4 -17.9L-92.29 5.01 M-70.09 -17.9L-71.52 -16.47L-72.95 -14.32L-74.39 -11.46L-75.1 -7.88L-75.1 -5.01L-74.39 -1.43L-72.95 1.43L-71.52 3.58L-70.09 5.01 M-57.2 -15.04L-57.2 -0 M-57.2 -7.88L-58.63 -9.31L-60.07 -10.02L-62.21 -10.02L-63.65 -9.31L-65.08 -7.88L-65.79 -5.73L-65.79 -4.3L-65.08 -2.15L-63.65 -0.72L-62.21 -0L-60.07 -0L-58.63 -0.72L-57.2 -2.15 M-51.47 -15.04L-51.47 -0 M-42.88 -10.02L-44.31 -9.31L-45.75 -7.88L-46.46 -5.73L-46.46 -4.3L-45.75 -2.15L-44.31 -0.72L-42.88 -0L-40.73 -0L-39.3 -0.72L-37.87 -2.15L-37.15 -4.3L-37.15 -5.73L-37.87 -7.88L-39.3 -9.31L-40.73 -10.02L-42.88 -10.02 M-24.27 -10.02L-24.27 1.43L-24.98 3.58L-25.7 4.3L-27.13 5.01L-29.28 5.01L-30.71 4.3 M-24.27 -7.88L-25.7 -9.31L-27.13 -10.02L-29.28 -10.02L-30.71 -9.31L-32.14 -7.88L-32.86 -5.73L-32.86 -4.3L-32.14 -2.15L-30.71 -0.72L-29.28 -0L-27.13 -0L-25.7 -0.72L-24.27 -2.15 M-7.08 -15.04L-7.08 -0 M-7.08 -0L1.51 -0 M4.37 -17.9L5.81 -16.47L7.24 -14.32L8.67 -11.46L9.39 -7.88L9.39 -5.01L8.67 -1.43L7.24 1.43L5.81 3.58L4.37 5.01 M26.57 -18.26L26.57 6.59 M27.29 -18.26L27.29 6.59 M26.57 -18.26L31.58 -18.26 M26.57 6.59L31.58 6.59 M36.59 -15.04L36.59 -0 M36.59 -15.04L42.32 -0 M48.05 -15.04L42.32 -0 M48.05 -15.04L48.05 -0 M53.78 -10.02L53.78 5.01 M53.78 -7.88L55.21 -9.31L56.64 -10.02L58.79 -10.02L60.22 -9.31L61.65 -7.88L62.37 -5.73L62.37 -4.3L61.65 -2.15L60.22 -0.72L58.79 -0L56.64 -0L55.21 -0.72L53.78 -2.15 M75.26 -7.88L73.83 -9.31L72.39 -10.02L70.25 -10.02L68.81 -9.31L67.38 -7.88L66.67 -5.73L66.67 -4.3L67.38 -2.15L68.81 -0.72L70.25 -0L72.39 -0L73.83 -0.72L75.26 -2.15 M78.74 -13.16L84.73 -13.16 M87.73 -17.16L91.39 -17.16L89.39 -14.5L90.39 -14.5L91.06 -14.16L91.39 -13.83L91.72 -12.83L91.72 -12.16L91.39 -11.17L90.72 -10.5L89.73 -10.17L88.73 -10.17L87.73 -10.5L87.39 -10.83L87.06 -11.5 M114.92 -15.04L114.92 -0 M114.92 -7.88L113.49 -9.31L112.05 -10.02L109.91 -10.02L108.47 -9.31L107.04 -7.88L106.33 -5.73L106.33 -4.3L107.04 -2.15L108.47 -0.72L109.91 -0L112.05 -0L113.49 -0.72L114.92 -2.15 M119.93 -5.73L128.52 -5.73L128.52 -7.16L127.81 -8.59L127.09 -9.31L125.66 -10.02L123.51 -10.02L122.08 -9.31L120.65 -7.88L119.93 -5.73L119.93 -4.3L120.65 -2.15L122.08 -0.72L123.51 -0L125.66 -0L127.09 -0.72L128.52 -2.15 M132.82 -10.02L140.69 -0 M140.69 -10.02L132.82 -0 M144.17 -13.16L150.17 -13.16 M153.5 -15.83L154.16 -16.16L155.16 -17.16L155.16 -10.17 M163.89 -18.26L163.89 6.59 M164.6 -18.26L164.6 6.59 M159.59 -18.26L164.6 -18.26 M159.59 6.59L164.6 6.59"/>
</g>
</svg>
</body></html>
